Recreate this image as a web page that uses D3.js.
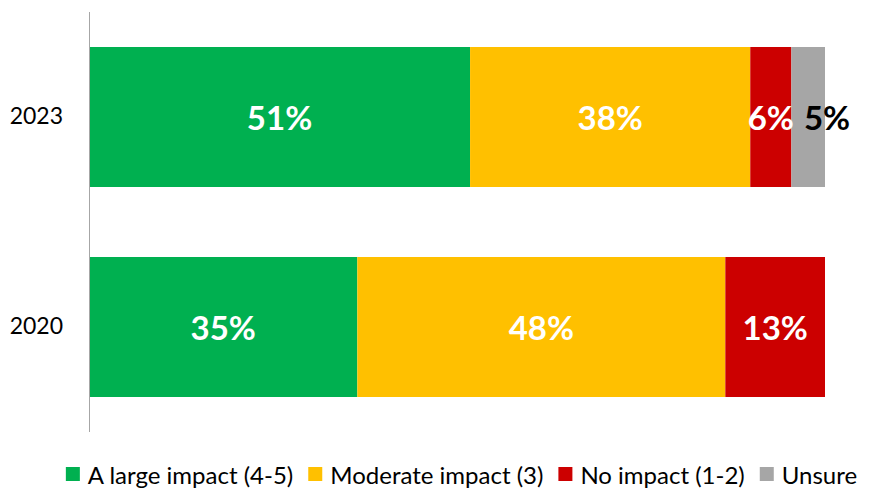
<!DOCTYPE html>
<html>
<head>
<meta charset="utf-8">
<script src="https://cdn.jsdelivr.net/npm/d3@7/dist/d3.min.js"></script>
<style>
  html, body { margin: 0; padding: 0; background: #ffffff; }
  svg { display: block; }
  text { font-family: Lato, "Open Sans", sans-serif; }
</style>
</head>
<body>
<svg id="chart" width="870" height="489"></svg>
<script>
// ---- data ----
const years = ["2023", "2020"];
const seriesNames = ["A large impact (4-5)", "Moderate impact (3)", "No impact (1-2)", "Unsure"];
const seriesColors = ["#00B050", "#FFC000", "#CC0000", "#A6A6A6"];
const labelColors = ["#ffffff", "#ffffff", "#ffffff", "#000000"];
const values2023 = [51, 37.5, 5.5, 4.5];
const values2020 = [35, 48, 13, null];

const valuesByYear = { "2023": values2023, "2020": values2020 };

// ---- layout ----
const W = 870, H = 489;
const margin = { left: 89, right: 45, top: 12, bottom: 57 };
const svg = d3.select("#chart");

const x = d3.scaleLinear().domain([0, 1]).range([margin.left, W - margin.right]);
const y = d3.scaleBand().domain(years).range([margin.top, H - margin.bottom])
  .paddingInner(1 / 3).paddingOuter(1 / 6);

// build normalized stacked rows (100% stacked)
const rows = years.map(yr => {
  const vals = valuesByYear[yr];
  const total = d3.sum(vals.filter(v => v != null));
  let acc = 0;
  const segs = [];
  vals.forEach((v, i) => {
    if (v == null) return;
    const x0 = acc / total;
    acc += v;
    segs.push({ year: yr, i, value: v, x0, x1: acc / total });
  });
  return { year: yr, segs };
});

// bars
const gBars = svg.append("g");
rows.forEach(r => {
  gBars.selectAll(null).data(r.segs).enter().append("rect")
    .attr("x", d => x(d.x0))
    .attr("y", y(r.year))
    .attr("width", d => x(d.x1) - x(d.x0))
    .attr("height", y.bandwidth())
    .attr("fill", d => seriesColors[d.i]);
});

// y axis line + category labels
const yAxis = d3.axisLeft(y).tickSize(0).tickPadding(26);
const gY = svg.append("g").attr("transform", `translate(${margin.left},0)`).call(yAxis);
gY.select(".domain").attr("stroke", "#A6A6A6").attr("stroke-width", 1)
  .attr("d", `M0.5,${margin.top}V${H - margin.bottom}`);
gY.selectAll(".tick text").attr("font-size", 23).attr("fill", "#000")
  .style("font-family", "Lato, 'Open Sans', sans-serif");

// data labels with simple collision avoidance
const gLab = svg.append("g");
rows.forEach(r => {
  let prevRight = -Infinity;
  r.segs.forEach(d => {
    const cx = (x(d.x0) + x(d.x1)) / 2;
    const t = gLab.append("text")
      .attr("x", cx)
      .attr("y", y(r.year) + y.bandwidth() / 2)
      .attr("text-anchor", "middle")
      .attr("dominant-baseline", "central")
      .attr("font-size", 33)
      .attr("font-weight", "bold")
      .attr("fill", labelColors[d.i])
      .text(Math.round(d.value) + "%");
    const w = t.node().getComputedTextLength();
    let left = cx - w / 2;
    const gap = 10;
    if (left < prevRight + gap) {
      left = prevRight + gap;
      t.attr("x", left + w / 2);
    }
    prevRight = left + w;
  });
});

// legend
const legend = svg.append("g");
const sq = 14, sqGap = 8, itemGap = 15, legY = 474;
let lx = 0;
seriesNames.forEach((name, i) => {
  const g = legend.append("g");
  g.append("rect").attr("x", 0).attr("y", legY - sq / 2).attr("width", sq).attr("height", sq)
    .attr("fill", seriesColors[i]);
  const t = g.append("text").attr("x", sq + sqGap).attr("y", legY)
    .attr("dominant-baseline", "central").attr("font-size", 24).attr("fill", "#000").text(name);
  const w = sq + sqGap + t.node().getComputedTextLength();
  g.attr("transform", `translate(${lx},0)`);
  lx += w + itemGap;
});
const legW = lx - itemGap;
const legCenter = 461.5;
legend.attr("transform", `translate(${legCenter - legW / 2},0)`);
</script>
</body>
</html>
